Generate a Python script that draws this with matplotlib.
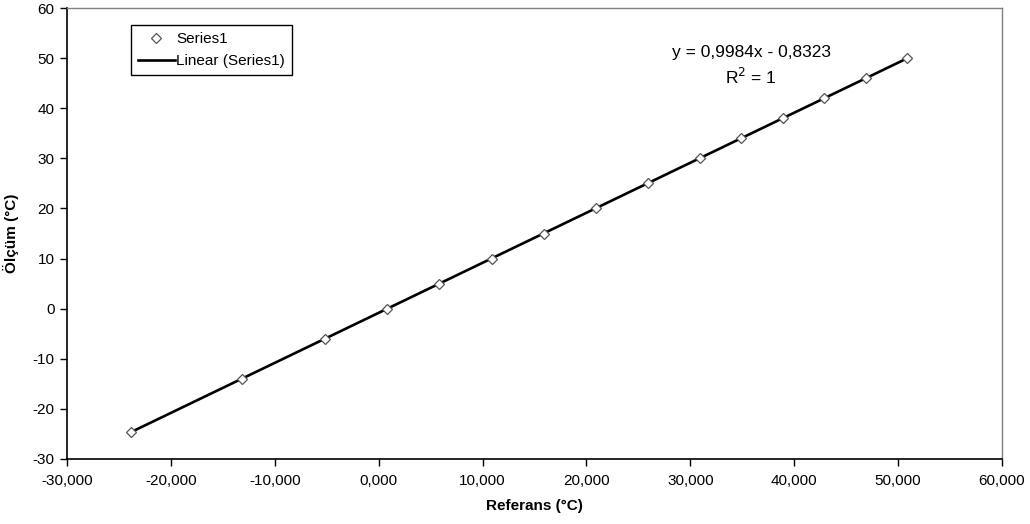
import matplotlib
matplotlib.use("Agg")
import matplotlib.pyplot as plt
import numpy as np
from matplotlib.ticker import FuncFormatter, MultipleLocator

plt.rcParams['font.family'] = ['Liberation Sans', 'DejaVu Sans']

referans = [-23.8, -13.2, -5.2, 0.8, 5.8, 10.9, 15.9, 20.9, 25.9, 30.9, 34.9, 38.9, 42.9, 46.9, 50.9]
olcum = [-24.6, -14, -6, 0, 5, 10, 15, 20, 25, 30, 34, 38, 42, 46, 50]
slope, intercept = 0.9984, -0.8323
eq_text = "y = 0,9984x - 0,8323"
r2_text = "R$^2$ = 1"

fig = plt.figure(figsize=(10.30, 5.24), dpi=100)
ax = fig.add_axes([67/1030, 1-459/524, (1002-67)/1030, (459-8)/524])

xs = np.array([min(referans), max(referans)])
ax.plot(xs, slope*xs + intercept, color='black', lw=1.9, label='Linear (Series1)', zorder=2)
ax.plot(referans, olcum, linestyle='none', marker='D', markersize=5.5,
        markerfacecolor='white', markeredgecolor='#555555', markeredgewidth=0.9,
        label='Series1', zorder=3)

ax.set_xlim(-30, 60)
ax.set_ylim(-30, 60)
ax.xaxis.set_major_locator(MultipleLocator(10))
ax.yaxis.set_major_locator(MultipleLocator(10))
ax.xaxis.set_major_formatter(FuncFormatter(lambda v, p: f"{v:.3f}".replace('.', ',')))
ax.yaxis.set_major_formatter(FuncFormatter(lambda v, p: f"{v:.0f}"))

for s in ['left', 'bottom']:
    ax.spines[s].set_color('black')
    ax.spines[s].set_linewidth(1.2)
for s in ['top', 'right']:
    ax.spines[s].set_color('#808080')
    ax.spines[s].set_linewidth(1.0)

ax.tick_params(axis='both', direction='out', length=5, width=1, labelsize=11, colors='black')
ax.tick_params(axis='x', pad=6)
ax.tick_params(axis='y', pad=4)

ax.set_xlabel("Referans (°C)", fontsize=11, fontweight='bold', labelpad=8)
ax.set_ylabel("Ölçüm (°C)", fontsize=11, fontweight='bold', labelpad=10)

fig.text(751/1030, 1-52/524, eq_text, ha='center', va='center', fontsize=12.5)
fig.text(751/1030, 1-77/524, r2_text, ha='center', va='center', fontsize=12.5)

handles, labels = ax.get_legend_handles_labels()
leg = ax.legend(handles[::-1], labels[::-1], loc='upper left',
                bbox_to_anchor=(131/1030, 1-25/524), bbox_transform=fig.transFigure,
                fontsize=11, frameon=True, fancybox=False, framealpha=1,
                edgecolor='black', borderpad=0.45, handlelength=2.4, handletextpad=0.1,
                labelspacing=0.55, borderaxespad=0)
leg.get_frame().set_linewidth(1.0)

fig.savefig("out.png", dpi=100, facecolor='white')
